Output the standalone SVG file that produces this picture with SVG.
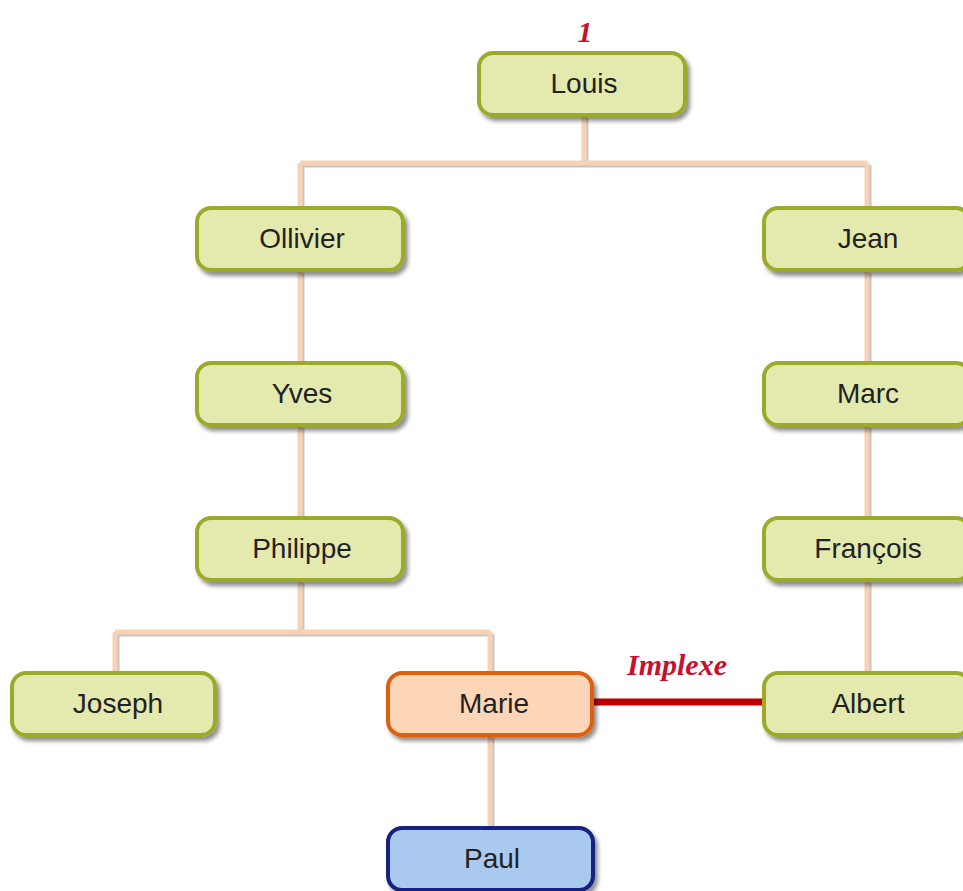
<svg xmlns="http://www.w3.org/2000/svg" width="963" height="891" viewBox="0 0 963 891">
<defs>
<filter id="sh" x="-10%" y="-10%" width="130%" height="140%">
<feGaussianBlur in="SourceAlpha" stdDeviation="2"/>
<feOffset dx="3" dy="4" result="b"/>
<feComponentTransfer><feFuncA type="linear" slope="0.45"/></feComponentTransfer>
<feMerge><feMergeNode/><feMergeNode in="SourceGraphic"/></feMerge>
</filter>
<style>
.n rect{stroke-width:4}
.g rect{fill:#e4e9ae;stroke:#9caa2c}
.m rect{fill:#fcd6b6;stroke:#e05e10}
.p rect{fill:#a9c9ee;stroke:#132080}
.n text{font-family:"Liberation Sans",Arial,sans-serif;font-size:28px;fill:#222;text-anchor:middle}
.c{fill:none;stroke:#f8d2b4;stroke-width:5}
.cs{fill:none;stroke:#a0a0a0;stroke-width:5;opacity:0.6}
</style>
</defs>
<rect width="963" height="891" fill="#fff"/>
<g id="connectors">
<g transform="translate(2,2)">
<path class="cs" d="M584 116V163M300 163H867M300 163V207M867 163V207M300 271V362M300 426V517M867 271V362M867 426V517M867 581V672M300 581V632M115 632H490M115 632V672M490 632V672M490 736V827"/>
</g>
<path class="c" d="M584 116V163M300 163H867M300 163V207M867 163V207M300 271V362M300 426V517M867 271V362M867 426V517M867 581V672M300 581V632M115 632H490M115 632V672M490 632V672M490 736V827"/>
<path d="M593 702H765" stroke="#c00000" stroke-width="7" fill="none"/>
</g>
<g id="louis" class="n g"><rect x="479" y="53" width="206" height="62" rx="14" filter="url(#sh)"/><text x="584" y="93">Louis</text></g>
<g id="ollivier" class="n g"><rect x="197" y="208" width="206" height="62" rx="14" filter="url(#sh)"/><text x="302" y="248">Ollivier</text></g>
<g id="jean" class="n g"><rect x="764" y="208" width="206" height="62" rx="14" filter="url(#sh)"/><text x="868" y="248">Jean</text></g>
<g id="yves" class="n g"><rect x="197" y="363" width="206" height="62" rx="14" filter="url(#sh)"/><text x="302" y="403">Yves</text></g>
<g id="marc" class="n g"><rect x="764" y="363" width="206" height="62" rx="14" filter="url(#sh)"/><text x="868" y="403">Marc</text></g>
<g id="philippe" class="n g"><rect x="197" y="518" width="206" height="62" rx="14" filter="url(#sh)"/><text x="302" y="558">Philippe</text></g>
<g id="francois" class="n g"><rect x="764" y="518" width="206" height="62" rx="14" filter="url(#sh)"/><text x="868" y="558">François</text></g>
<g id="joseph" class="n g"><rect x="12" y="673" width="203" height="62" rx="14" filter="url(#sh)"/><text x="118" y="713">Joseph</text></g>
<g id="marie" class="n m"><rect x="388" y="673" width="204" height="62" rx="14" filter="url(#sh)"/><text x="494" y="713">Marie</text></g>
<g id="albert" class="n g"><rect x="764" y="673" width="206" height="62" rx="14" filter="url(#sh)"/><text x="868" y="713">Albert</text></g>
<g id="paul" class="n p"><rect x="388" y="828" width="205" height="62" rx="14" filter="url(#sh)"/><text x="492" y="868">Paul</text></g>
<text x="585" y="42" font-family="'Liberation Serif',serif" font-style="italic" font-weight="bold" font-size="30" fill="#c8102e" text-anchor="middle">1</text>
<text x="677" y="675" font-family="'Liberation Serif',serif" font-style="italic" font-weight="bold" font-size="30" fill="#c8102e" text-anchor="middle">Implexe</text>
</svg>
